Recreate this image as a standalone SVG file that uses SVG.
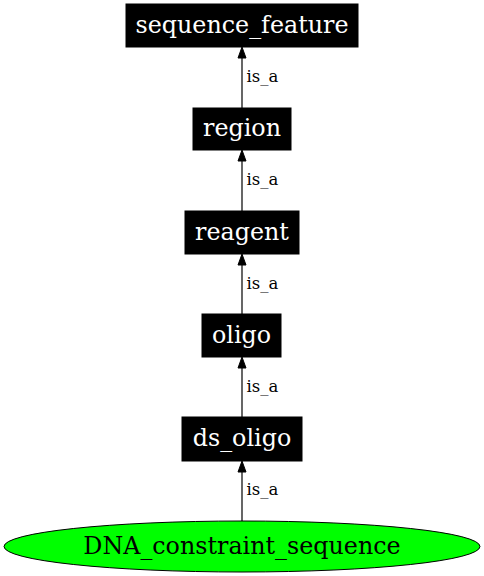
<svg xmlns="http://www.w3.org/2000/svg" width="484" height="576" viewBox="0 0 484 576">
<style>
.box{fill:#000;stroke:#000;stroke-width:1}
.nt{font-family:"DejaVu Serif",serif;font-size:23.8px;fill:#fff;text-anchor:middle}
.et{font-family:"DejaVu Serif",serif;font-size:16.5px;fill:#000}
.edge{stroke:#000;stroke-width:1.2;fill:none}
.ah{fill:#000;stroke:#000}
</style>
<rect width="484" height="576" fill="#fff"/>
<g id="connectors">
<g><line class="edge" x1="242" y1="108" x2="242" y2="58"/><polygon class="ah" points="242,47 238,58 246,58"/><text class="et" x="246.5" y="82">is_a</text></g>
<g><line class="edge" x1="242" y1="211" x2="242" y2="161"/><polygon class="ah" points="242,150 238,161 246,161"/><text class="et" x="246.5" y="185">is_a</text></g>
<g><line class="edge" x1="242" y1="314" x2="242" y2="265"/><polygon class="ah" points="242,254 238,265 246,265"/><text class="et" x="246.5" y="288.5">is_a</text></g>
<g><line class="edge" x1="242" y1="417" x2="242" y2="368"/><polygon class="ah" points="242,357 238,368 246,368"/><text class="et" x="246.5" y="391.5">is_a</text></g>
<g><line class="edge" x1="242" y1="521" x2="242" y2="472"/><polygon class="ah" points="242,461 238,472 246,472"/><text class="et" x="246.5" y="495">is_a</text></g>
</g>
<g id="sequence_feature"><rect class="box" x="126" y="4" width="232" height="43"/><text class="nt" x="242" y="33">sequence_feature</text></g>
<g id="region"><rect class="box" x="193" y="108" width="98" height="42"/><text class="nt" x="242" y="136">region</text></g>
<g id="reagent"><rect class="box" x="185" y="211" width="114" height="43"/><text class="nt" x="242" y="240">reagent</text></g>
<g id="oligo"><rect class="box" x="202" y="314" width="79" height="43"/><text class="nt" x="241.5" y="343">oligo</text></g>
<g id="ds_oligo"><rect class="box" x="182" y="417" width="120" height="44"/><text class="nt" x="242" y="446">ds_oligo</text></g>
<g id="DNA_constraint_sequence"><ellipse cx="242" cy="546.5" rx="238" ry="25.5" fill="#00ff00" stroke="#000" stroke-width="1"/><text class="nt" x="242" y="554" style="fill:#000">DNA_constraint_sequence</text></g>
</svg>
